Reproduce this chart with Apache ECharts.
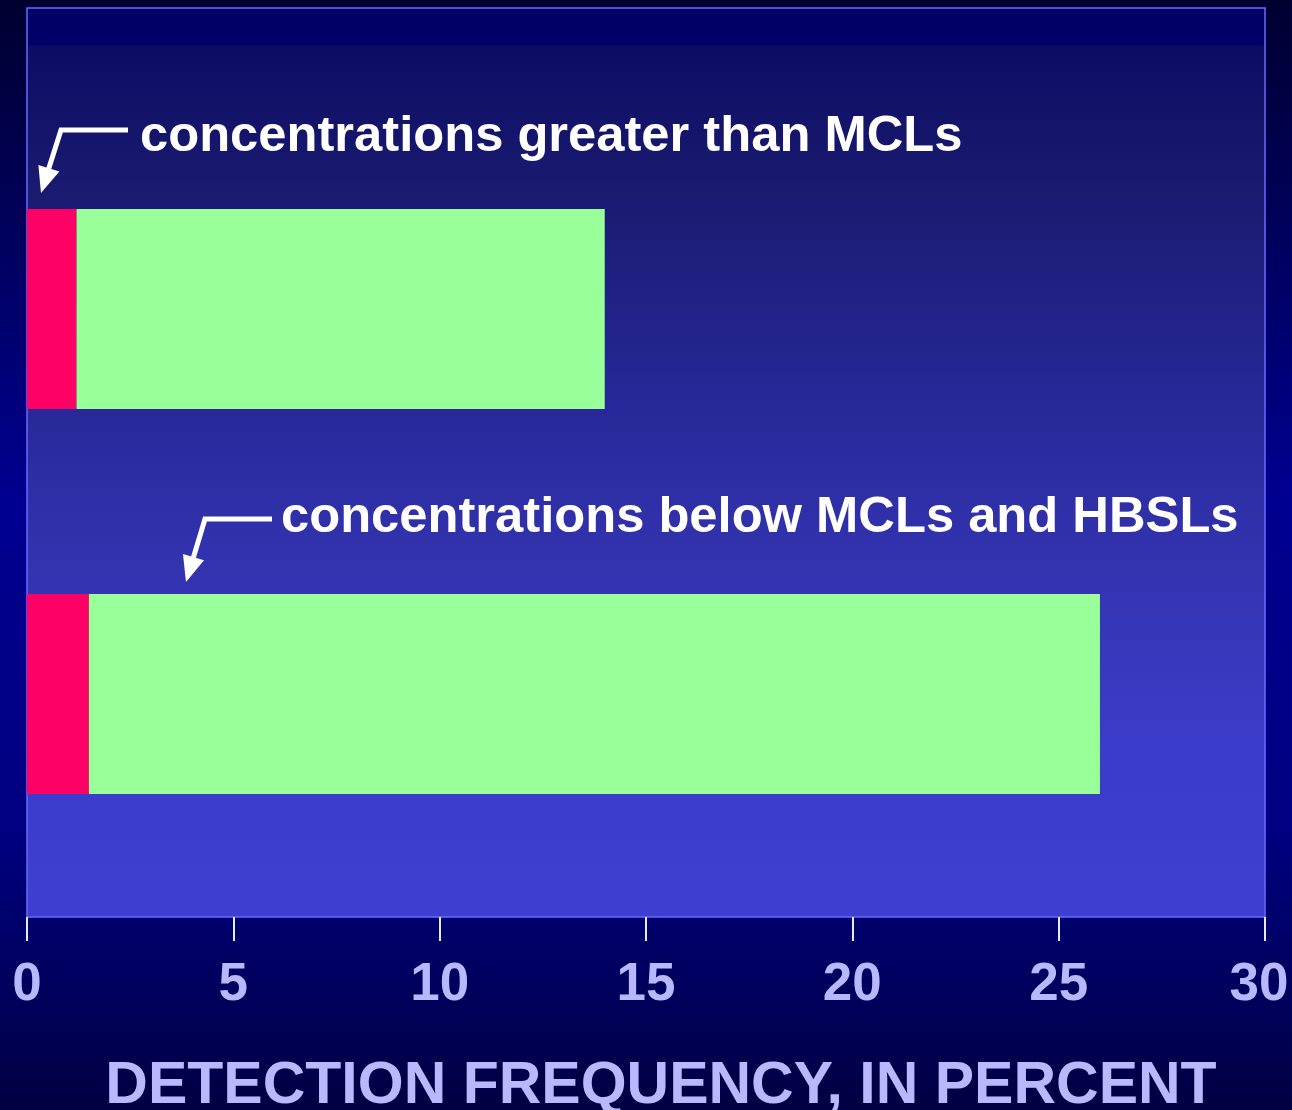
<!DOCTYPE html>
<html>
<head>
<meta charset="utf-8">
<script src="https://cdn.jsdelivr.net/npm/echarts@6/dist/echarts.min.js"></script>
<style>
    html, body { margin: 0; padding: 0; background: #000060; }
    #chart { width: 1292px; height: 1110px; }
</style>
</head>
<body>
<div id="chart"></div>
<script>
    // data
    const categories = ['Sample B', 'Sample A'];   // bottom bar first
    const greaterThanMcl = [1.5, 1.2];
    const belowMcl = [24.5, 12.8];
    const xTicks = [0, 5, 10, 15, 20, 25, 30];

    const FONT = '"Liberation Sans", Arial, sans-serif';
    const LABEL_COLOR = '#b8b8ff';

    const chart = echarts.init(document.getElementById('chart'));

    // arrow: polyline with a triangular head at the last point
    function arrow(points) {
        const a = points[points.length - 2], b = points[points.length - 1];
        const dx = b[0] - a[0], dy = b[1] - a[1];
        const len = Math.sqrt(dx * dx + dy * dy);
        const ux = dx / len, uy = dy / len;
        const headLen = 26, headW = 11;
        const base = [b[0] - ux * headLen, b[1] - uy * headLen];
        const line = points.slice(0, -1).concat([[b[0] - ux * (headLen - 4), b[1] - uy * (headLen - 4)]]);
        return [
            {
                type: 'polyline',
                shape: {points: line},
                style: {stroke: '#ffffff', lineWidth: 5, fill: null, lineJoin: 'miter'},
                z: 10
            },
            {
                type: 'polygon',
                shape: {points: [b, [base[0] - uy * headW, base[1] + ux * headW], [base[0] + uy * headW, base[1] - ux * headW]]},
                style: {fill: '#ffffff'},
                z: 10
            }
        ];
    }

    const option = {
        backgroundColor: new echarts.graphic.LinearGradient(0, 0, 0, 1, [
            {offset: 0, color: '#000030'},
            {offset: 0.45, color: '#000090'},
            {offset: 0.75, color: '#000080'},
            {offset: 1, color: '#000042'}
        ]),
        animation: false,
        grid: [
            {
                // plot frame with ticks
                left: 27, top: 8, right: 27, bottom: 193,
                outerBoundsMode: 'none',
                containLabel: false,
                show: true,
                borderColor: '#6a6aff',
                borderWidth: 1.5,
                backgroundColor: new echarts.graphic.LinearGradient(0, 0, 0, 1, [
                    {offset: 0, color: '#000066'},
                    {offset: 0.041, color: '#000066'},
                    {offset: 0.043, color: '#0c0c64'},
                    {offset: 0.2, color: '#1a1a70'},
                    {offset: 0.44, color: '#28289a'},
                    {offset: 0.63, color: '#3434b2'},
                    {offset: 0.82, color: '#3c3ccb'},
                    {offset: 1, color: '#3e3ed0'}
                ])
            },
            {
                // bars
                left: 27, top: 116.5, right: 27, bottom: 223.5,
                outerBoundsMode: 'none',
                containLabel: false
            }
        ],
        xAxis: [
            {
                gridIndex: 0,
                type: 'value',
                min: xTicks[0],
                max: xTicks[xTicks.length - 1],
                interval: 5,
                axisLine: {show: false},
                splitLine: {show: false},
                axisTick: {show: true, length: 24, inside: false, lineStyle: {color: '#e8e8ff', width: 2}},
                axisLabel: {
                    margin: 42,
                    color: LABEL_COLOR,
                    fontSize: 53,
                    fontWeight: 'bold',
                    fontFamily: FONT,
                    formatter: v => v === xTicks[xTicks.length - 1] ? '{last|' + v + '}' : String(v),
                    rich: {
                        last: {
                            color: LABEL_COLOR,
                            fontSize: 53,
                            fontWeight: 'bold',
                            fontFamily: FONT,
                            padding: [0, 12, 10, 0]
                        }
                    }
                },
                name: 'DETECTION FREQUENCY, IN PERCENT',
                nameLocation: 'middle',
                nameGap: 140,
                nameTextStyle: {
                    color: LABEL_COLOR,
                    fontSize: 59,
                    fontWeight: 'bold',
                    fontFamily: FONT,
                    padding: [0, 0, 0, 30]
                }
            },
            {
                gridIndex: 1,
                type: 'value',
                min: xTicks[0],
                max: xTicks[xTicks.length - 1],
                show: false
            }
        ],
        yAxis: [
            {gridIndex: 0, type: 'value', show: false},
            {gridIndex: 1, type: 'category', data: categories, show: false}
        ],
        series: [
            {
                name: 'concentrations greater than MCLs',
                type: 'bar',
                stack: 'total',
                xAxisIndex: 1,
                yAxisIndex: 1,
                barWidth: 200,
                itemStyle: {color: '#ff0066'},
                data: greaterThanMcl
            },
            {
                name: 'concentrations below MCLs and HBSLs',
                type: 'bar',
                stack: 'total',
                xAxisIndex: 1,
                yAxisIndex: 1,
                barWidth: 200,
                itemStyle: {color: '#99ff99'},
                data: belowMcl
            }
        ],
        graphic: [
            {
                type: 'text',
                x: 140, y: 137,
                style: {
                    text: 'concentrations greater than MCLs',
                    fill: '#ffffff',
                    font: 'bold 50.7px ' + FONT,
                    verticalAlign: 'middle'
                },
                z: 10
            },
            {
                type: 'text',
                x: 281, y: 518,
                style: {
                    text: 'concentrations below MCLs and HBSLs',
                    fill: '#ffffff',
                    font: 'bold 50.7px ' + FONT,
                    verticalAlign: 'middle'
                },
                z: 10
            }
        ].concat(arrow([[128, 130], [61, 130], [41, 193]]))
         .concat(arrow([[272, 519], [205, 519], [186, 582]]))
    };

    chart.setOption(option);
</script>
</body>
</html>
